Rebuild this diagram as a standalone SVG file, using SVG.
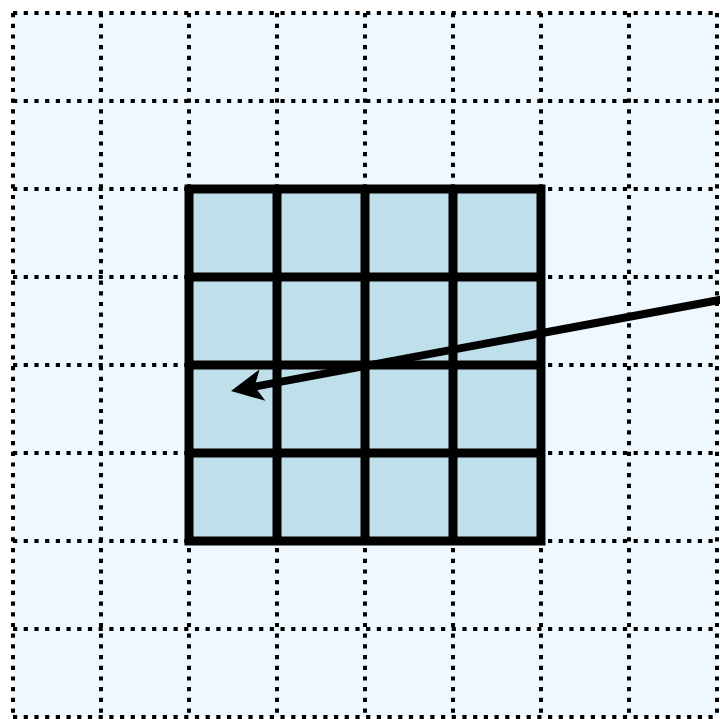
<svg xmlns="http://www.w3.org/2000/svg" width="720" height="719" viewBox="0 0 720 719">
<style>
.dot{stroke:#000;stroke-width:4;stroke-dasharray:4.2 6.5;fill:none}
.thick{stroke:#000;stroke-width:9;fill:none}
.arrow{stroke:#000;stroke-width:8;fill:none}
</style>
<defs>
<marker id="ah" viewBox="-34 -18 36 36" markerWidth="36" markerHeight="36" refX="-24" refY="0" orient="auto" markerUnits="userSpaceOnUse">
<path d="M0,0 L-32,-16 L-24,0 L-32,16 Z" fill="#000"/>
</marker>
</defs>
<g id="background">
<rect x="13" y="13" width="704" height="704" fill="#EEF8FE"/>
</g>
<g id="grid">
<line class="dot" x1="13" y1="13" x2="717" y2="13"/>
<line class="dot" x1="13" y1="101" x2="717" y2="101"/>
<line class="dot" x1="13" y1="189" x2="717" y2="189"/>
<line class="dot" x1="13" y1="277" x2="717" y2="277"/>
<line class="dot" x1="13" y1="365" x2="717" y2="365"/>
<line class="dot" x1="13" y1="453" x2="717" y2="453"/>
<line class="dot" x1="13" y1="541" x2="717" y2="541"/>
<line class="dot" x1="13" y1="629" x2="717" y2="629"/>
<line class="dot" x1="13" y1="717" x2="717" y2="717"/>
<line class="dot" x1="13" y1="13" x2="13" y2="717"/>
<line class="dot" x1="101" y1="13" x2="101" y2="717"/>
<line class="dot" x1="189" y1="13" x2="189" y2="717"/>
<line class="dot" x1="277" y1="13" x2="277" y2="717"/>
<line class="dot" x1="365" y1="13" x2="365" y2="717"/>
<line class="dot" x1="453" y1="13" x2="453" y2="717"/>
<line class="dot" x1="541" y1="13" x2="541" y2="717"/>
<line class="dot" x1="629" y1="13" x2="629" y2="717"/>
<line class="dot" x1="717" y1="13" x2="717" y2="717"/>
</g>
<g id="block">
<rect x="189" y="189" width="352" height="352" fill="#BFDFEA"/>
<line class="thick" x1="277" y1="189" x2="277" y2="541"/>
<line class="thick" x1="365" y1="189" x2="365" y2="541"/>
<line class="thick" x1="453" y1="189" x2="453" y2="541"/>
<line class="thick" x1="189" y1="277" x2="541" y2="277"/>
<line class="thick" x1="189" y1="365" x2="541" y2="365"/>
<line class="thick" x1="189" y1="453" x2="541" y2="453"/>
<rect class="thick" x="189" y="189" width="352" height="352" stroke-linejoin="miter"/>
</g>
<g id="connectors">
<line class="arrow" x1="730" y1="298" x2="254.6" y2="386.6" marker-end="url(#ah)"/>
</g>
</svg>
